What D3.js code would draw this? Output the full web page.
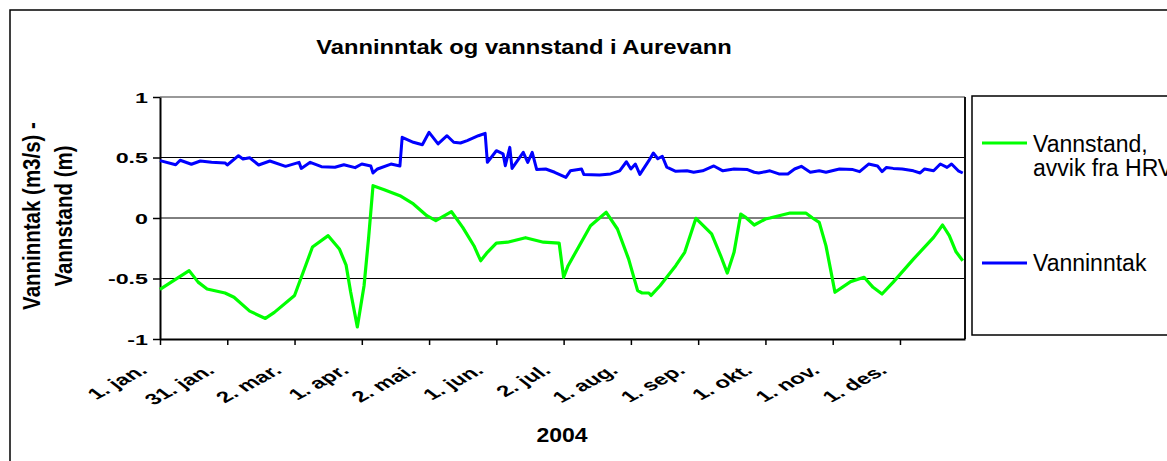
<!DOCTYPE html>
<html>
<head>
<meta charset="utf-8">
<script src="https://cdn.jsdelivr.net/npm/d3@7"></script>
<style>
  body { margin: 0; background: #fff; }
  svg { display: block; font-family: "Liberation Sans", Arial, sans-serif; }
</style>
</head>
<body>
<svg id="chart" width="1167" height="461"></svg>
<script>
// x ticks every 30 days, labelled with the date of that day
const tickDays = [0, 30, 60, 90, 120, 150, 180, 210, 240, 270, 300, 330];
const tickLabels = ["1. jan.", "31. jan.", "2. mar.", "1. apr.", "2. mai.", "1. jun.",
  "2. jul.", "1. aug.", "1. sep.", "1. okt.", "1. nov.", "1. des."];
const yTicks = [-1, -0.5, 0, 0.5, 1];

// Vannstand, avvik fra HRV (green)
const levelDays = [0,5,13,17,21,29,33,40,47,51,60,65,68,75,80,83,85,88,91,93,
  95,100,107,113,119,123,130,135,140,143,146,150,155,163,171,178,180,182,187,192,
  199,204,209,213,215,218,219,223,230,234,239,246,250,253,256,259,261,265,270,272,
  281,288,291,294,297,299,301,308,314,318,322,327,336,345,349,352,355,358];
const levelVals = [-0.59,-0.53,-0.435,-0.53,-0.587,-0.62,-0.655,-0.77,-0.83,-0.78,
  -0.64,-0.39,-0.24,-0.146,-0.256,-0.39,-0.61,-0.90,-0.56,-0.17,
  0.267,0.234,0.184,0.116,0.019,-0.022,0.052,-0.077,-0.229,-0.353,
  -0.284,-0.207,-0.2,-0.163,-0.2,-0.207,-0.49,-0.394,-0.229,-0.064,
  0.047,-0.091,-0.34,-0.6,-0.62,-0.62,-0.64,-0.56,-0.394,-0.284,
  -0.003,-0.132,-0.31,-0.455,-0.284,0.033,0.008,-0.058,-0.008,0,
  0.041,0.041,0,-0.036,-0.23,-0.42,-0.614,-0.526,-0.49,-0.573,
  -0.628,-0.53,-0.34,-0.16,-0.058,-0.146,-0.279,-0.353];

// Vanninntak (blue)
const intakeDays = [0,7,9,14,18,23,29,30,35,37,40,44,49,56,62,63,67,72,78,82,
  87,90,94,95,97,103,107,108,113,117,120,124,128,131,134,137,142,145,146,150,
  153,154,156,157,162,164,166,168,172,176,181,183,188,189,196,201,205,208,210,212,
  214,218,220,222,224,226,230,235,238,242,247,251,256,262,265,267,270,272,276,280,
  283,286,290,294,297,303,309,312,316,320,322,324,327,331,336,339,341,345,348,351,
  353,356,358];
const intakeVals = [0.474,0.44,0.477,0.444,0.471,0.46,0.455,0.438,0.515,0.488,
  0.498,0.438,0.471,0.427,0.46,0.41,0.46,0.424,0.419,0.44,
  0.416,0.446,0.43,0.372,0.405,0.446,0.43,0.667,0.626,0.605,
  0.708,0.612,0.68,0.626,0.62,0.64,0.68,0.70,0.46,0.556,
  0.53,0.432,0.584,0.41,0.543,0.46,0.543,0.4,0.405,0.378,
  0.336,0.39,0.405,0.36,0.355,0.364,0.39,0.465,0.405,0.446,
  0.36,0.474,0.537,0.49,0.51,0.42,0.386,0.39,0.378,0.39,
  0.43,0.39,0.405,0.4,0.378,0.372,0.383,0.39,0.364,0.364,
  0.405,0.427,0.378,0.39,0.378,0.405,0.4,0.383,0.446,0.43,
  0.383,0.418,0.41,0.405,0.39,0.372,0.405,0.39,0.446,0.418,
  0.446,0.39,0.372];

const svg = d3.select("#chart");
const plot = { left: 160, right: 965, top: 97, bottom: 339 };
const sx = 1.55; // text in the picture is stretched sideways

const x = d3.scaleLinear().domain([0, 359]).range([plot.left, plot.right]);
const y = d3.scaleLinear().domain([-1, 1]).range([plot.bottom, plot.top]);

// outer chart frame
svg.append("rect").attr("x", 10).attr("y", 10).attr("width", 1200).attr("height", 500)
  .attr("fill", "none").attr("stroke", "#000").attr("stroke-width", 1.5);

svg.append("text")
  .attr("transform", `translate(524,54) scale(1.13,1)`)
  .attr("text-anchor", "middle").attr("font-weight", "bold").attr("font-size", 21)
  .text("Vanninntak og vannstand i Aurevann");

// gridlines
svg.append("g").selectAll("line").data([-0.5, 0, 0.5]).join("line")
  .attr("x1", plot.left).attr("x2", plot.right)
  .attr("y1", d => y(d)).attr("y2", d => y(d))
  .attr("stroke", "#000").attr("stroke-width", 1);

// plot frame top + right
svg.append("line").attr("x1", plot.left).attr("x2", plot.right).attr("y1", plot.top).attr("y2", plot.top)
  .attr("stroke", "#777").attr("stroke-width", 1.5);
svg.append("line").attr("x1", plot.right).attr("x2", plot.right).attr("y1", plot.top).attr("y2", plot.bottom)
  .attr("stroke", "#111").attr("stroke-width", 2);

const yAxis = svg.append("g").attr("transform", `translate(${plot.left},0)`)
  .call(d3.axisLeft(y).tickValues(yTicks).tickSize(7).tickSizeOuter(0).tickFormat(d => String(d)));
yAxis.select(".domain").attr("stroke-width", 2);
yAxis.selectAll(".tick line").attr("stroke-width", 1.5);
yAxis.selectAll(".tick text")
  .attr("x", null).attr("dy", "0.36em")
  .attr("transform", `translate(-12,0) scale(${sx},1)`)
  .attr("font-size", 15).attr("font-weight", "bold").attr("fill", "#000")
  .attr("font-family", "Liberation Sans, Arial, sans-serif");

const xAxis = svg.append("g").attr("transform", `translate(0,${plot.bottom})`)
  .call(d3.axisBottom(x).tickValues(tickDays).tickSize(6).tickSizeOuter(0)
    .tickFormat((d, i) => tickLabels[i]));
xAxis.select(".domain").attr("stroke-width", 2);
xAxis.selectAll(".tick line").attr("stroke-width", 1.5);
xAxis.selectAll(".tick text")
  .attr("y", null).attr("dy", null).attr("text-anchor", "end")
  .attr("transform", `translate(-12,33) scale(${sx},1) rotate(-40)`)
  .attr("font-size", 15.5).attr("font-weight", "bold").attr("fill", "#000")
  .attr("font-family", "Liberation Sans, Arial, sans-serif");

svg.append("text")
  .attr("transform", `translate(562,442) scale(1.15,1)`)
  .attr("text-anchor", "middle").attr("font-weight", "bold").attr("font-size", 20)
  .text("2004");

const yTitle = ["Vanninntak (m3/s) -", "Vannstand (m)"];
svg.append("g").selectAll("text").data(yTitle).join("text")
  .attr("transform", (d, i) => `translate(${40 + i * 31.5},216) scale(1.2,1) rotate(-90)`)
  .attr("text-anchor", "middle").attr("font-weight", "bold").attr("font-size", 20.5)
  .text(d => d);

const line = d3.line().x(d => x(d[0])).y(d => y(d[1]));

svg.append("path").datum(d3.zip(intakeDays, intakeVals))
  .attr("d", line).attr("fill", "none").attr("stroke", "#0000ff")
  .attr("stroke-width", 3).attr("stroke-linejoin", "round");

svg.append("path").datum(d3.zip(levelDays, levelVals))
  .attr("d", line).attr("fill", "none").attr("stroke", "#00ff00")
  .attr("stroke-width", 3.2).attr("stroke-linejoin", "round");

// legend (the picture is cut at its right edge, as in the source)
svg.append("rect").attr("x", 972).attr("y", 96).attr("width", 300).attr("height", 239)
  .attr("fill", "#fff").attr("stroke", "#000").attr("stroke-width", 1.5);

const legend = svg.append("g");
legend.append("line").attr("x1", 982).attr("x2", 1027).attr("y1", 143).attr("y2", 143)
  .attr("stroke", "#00ff00").attr("stroke-width", 3);
legend.append("text").attr("x", 1033).attr("y", 152).attr("font-size", 23)
  .selectAll("tspan").data(["Vannstand,", "avvik fra HRV"]).join("tspan")
  .attr("x", 1033).attr("dy", (d, i) => i ? 24 : 0).text(d => d);
legend.append("line").attr("x1", 982).attr("x2", 1027).attr("y1", 263).attr("y2", 263)
  .attr("stroke", "#0000ff").attr("stroke-width", 3);
legend.append("text").attr("x", 1033).attr("y", 271).attr("font-size", 23).text("Vanninntak");
</script>
</body>
</html>
